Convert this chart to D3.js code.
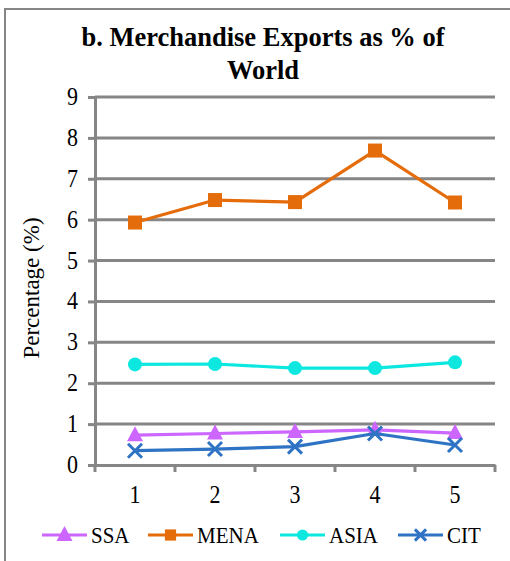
<!DOCTYPE html>
<html>
<head>
<meta charset="utf-8">
<script src="https://cdn.jsdelivr.net/npm/d3@7.9.0/dist/d3.min.js"></script>
<style>
  body { margin: 0; background: #fff; }
</style>
</head>
<body>
<svg id="chart" width="510" height="561"></svg>
<script>
// data
const periods = [1, 2, 3, 4, 5];
const ssa  = [0.73, 0.77, 0.81, 0.86, 0.78];
const mena = [5.93, 6.48, 6.43, 7.69, 6.42];
const asia = [2.46, 2.47, 2.37, 2.37, 2.51];
const cit  = [0.35, 0.39, 0.45, 0.77, 0.49];
const yTicks = [0, 1, 2, 3, 4, 5, 6, 7, 8, 9];

const seriesList = [
  { name: "SSA",  values: ssa,  color: "#CC66FF", marker: "triangle" },
  { name: "MENA", values: mena, color: "#E46C0A", marker: "square" },
  { name: "ASIA", values: asia, color: "#0CE8E0", marker: "circle" },
  { name: "CIT",  values: cit,  color: "#2F73C4", marker: "cross" }
];

const svg = d3.select("#chart");
const gridColor = "#868686";
const serif = "'Liberation Serif', 'Times New Roman', serif";
const stretch = 1.12; // the reference text is a bit taller than wide

// text placed at (tx, ty) with a small vertical stretch
function label(tx, ty, str, size, anchor) {
  return svg.append("text")
    .attr("transform", `translate(${tx},${ty}) scale(1,${stretch})`)
    .attr("text-anchor", anchor || "start")
    .attr("fill", "#000")
    .style("font-family", serif)
    .style("font-size", size + "px")
    .text(str);
}

// outer frame
svg.append("rect")
  .attr("x", 5).attr("y", 9)
  .attr("width", 530).attr("height", 570)
  .attr("fill", "none").attr("stroke", gridColor).attr("stroke-width", 2);

// title
["b. Merchandise Exports as % of", "World"].forEach((t, i) => {
  svg.append("text")
    .attr("x", 263).attr("y", 46 + i * 33)
    .attr("text-anchor", "middle")
    .attr("fill", "#000")
    .style("font-family", serif)
    .style("font-size", "26.5px").style("font-weight", "bold")
    .text(t);
});

const plotLeft = 95, plotRight = 495, plotTop = 97, plotBottom = 465;

const x = d3.scaleBand().domain(periods).range([plotLeft, plotRight]);
const y = d3.scaleLinear().domain([0, 9]).range([plotBottom, plotTop]);

// horizontal gridlines
svg.append("g")
  .selectAll("line")
  .data(yTicks.filter(d => d > 0))
  .join("line")
  .attr("x1", plotLeft).attr("x2", plotRight)
  .attr("y1", d => y(d)).attr("y2", d => y(d))
  .attr("stroke", gridColor).attr("stroke-width", 3);

// y axis (labels drawn separately)
const yAxis = svg.append("g")
  .attr("transform", `translate(${plotLeft},0)`)
  .call(d3.axisLeft(y).tickValues(yTicks).tickSize(7).tickFormat(""));
yAxis.select(".domain").attr("stroke", gridColor).attr("stroke-width", 3);
yAxis.selectAll(".tick line").attr("stroke", gridColor).attr("stroke-width", 3);
yTicks.forEach(t => label(78, y(t) + 8, String(t), 22, "end"));

// x axis
const xAxis = svg.append("g")
  .attr("transform", `translate(0,${plotBottom})`)
  .call(d3.axisBottom(x).tickSize(0).tickFormat(""));
xAxis.select(".domain").attr("stroke", gridColor).attr("stroke-width", 3);
periods.forEach(p => label(x(p) + x.bandwidth() / 2, 503, String(p), 22, "middle"));

// x tick marks at band edges
const edges = periods.map(p => x(p)).concat([plotRight]);
svg.append("g")
  .selectAll("line")
  .data(edges)
  .join("line")
  .attr("x1", d => d).attr("x2", d => d)
  .attr("y1", plotBottom).attr("y2", plotBottom + 7)
  .attr("stroke", gridColor).attr("stroke-width", 3);

// y axis title
svg.append("text")
  .attr("transform", "translate(39,288) rotate(-90)")
  .attr("text-anchor", "middle")
  .attr("fill", "#000")
  .style("font-family", serif)
  .style("font-size", "23px")
  .text("Percentage (%)");

const cx = p => x(p) + x.bandwidth() / 2;

function drawMarker(g, type, color, px, py, k) {
  if (type === "square") {
    g.append("rect").attr("x", px - 7 * k).attr("y", py - 7 * k)
      .attr("width", 14 * k).attr("height", 14 * k).attr("fill", color);
  } else if (type === "circle") {
    g.append("circle").attr("cx", px).attr("cy", py).attr("r", 7 * k).attr("fill", color);
  } else if (type === "triangle") {
    g.append("path")
      .attr("d", `M${px},${py - 9 * k}L${px + 8 * k},${py + 6 * k}L${px - 8 * k},${py + 6 * k}Z`)
      .attr("fill", color);
  } else if (type === "cross") {
    g.append("path")
      .attr("d", `M${px - 7 * k},${py - 7 * k}L${px + 7 * k},${py + 7 * k}M${px - 7 * k},${py + 7 * k}L${px + 7 * k},${py - 7 * k}`)
      .attr("stroke", color).attr("stroke-width", 3).attr("fill", "none");
  }
}

const line = d3.line().x((d, i) => cx(periods[i])).y(d => y(d));

seriesList.forEach(s => {
  const g = svg.append("g");
  g.append("path")
    .datum(s.values)
    .attr("d", line)
    .attr("fill", "none")
    .attr("stroke", s.color)
    .attr("stroke-width", 3.2)
    .attr("stroke-linejoin", "round");
  s.values.forEach((v, i) => drawMarker(g, s.marker, s.color, cx(periods[i]), y(v), 1));
});

// legend
const legendX = [42, 148, 280, 398];
seriesList.forEach((s, i) => {
  const g = svg.append("g");
  const lx = legendX[i], ly = 535;
  g.append("line")
    .attr("x1", lx).attr("x2", lx + 45)
    .attr("y1", ly).attr("y2", ly)
    .attr("stroke", s.color).attr("stroke-width", 3.2);
  drawMarker(g, s.marker, s.color, lx + 22.5, ly, s.marker === "triangle" ? 1 : 0.8);
  label(lx + 49, ly + 8, s.name, 21, "start");
});
</script>
</body>
</html>
